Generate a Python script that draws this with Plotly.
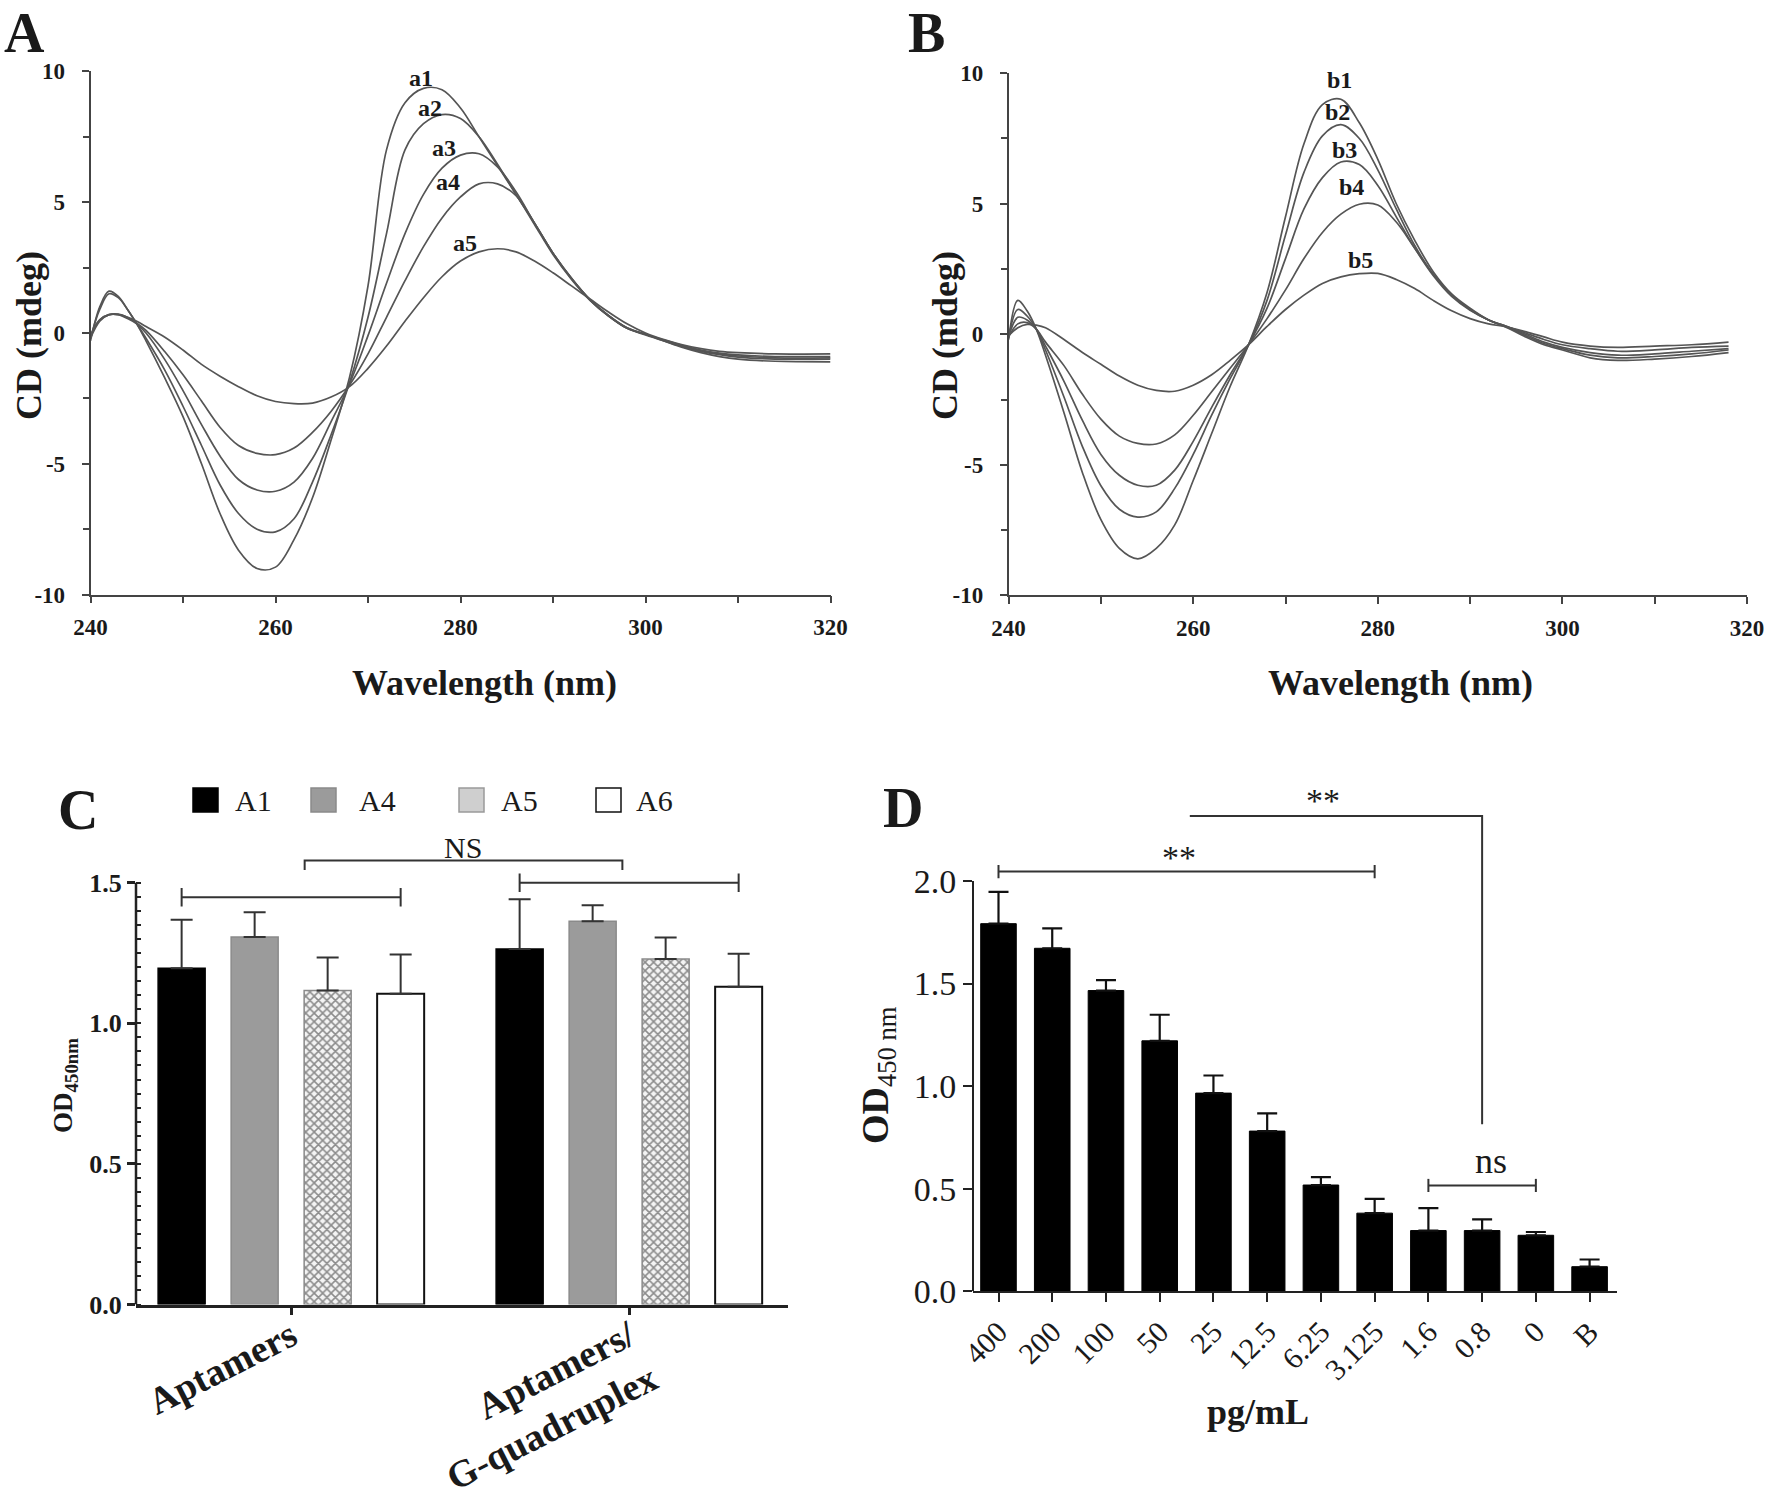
import plotly.graph_objects as go

W, H = 1770, 1504
SERIF = "Liberation Serif"
INK = "#1a1a1a"
CURVE = "#555555"

# ---------------- Panel A : CD spectra ----------------
WL_A = [240, 241, 242, 243, 244, 245, 246, 248, 250, 252, 254, 256, 258, 260, 262, 264, 266, 268,
        270, 272, 274, 276, 278, 280, 282, 284, 286, 288, 290, 292, 294, 296, 298, 300, 302, 304,
        306, 308, 310, 314, 320]
A1 = [-0.3, 1.0, 1.6, 1.4, 0.9, 0.35, -0.3, -1.7, -3.2, -5.0, -6.9, -8.3, -9.0, -8.95, -7.9, -6.3, -4.1, -1.7,
      1.8, 7.0, 8.8, 9.35, 9.3, 8.6, 7.5, 6.4, 5.3, 4.2, 3.05, 2.1, 1.27, 0.66, 0.18, -0.05, -0.3, -0.55,
      -0.75, -0.9, -1.0, -1.08, -1.1]
A2 = [-0.2, 0.9, 1.5, 1.35, 0.9, 0.35, -0.2, -1.4, -2.8, -4.3, -5.8, -6.9, -7.5, -7.6, -7.1, -5.7, -3.9, -1.9,
      0.6, 3.8, 7.0, 8.0, 8.35, 8.2, 7.5, 6.45, 5.3, 4.15, 3.0, 2.05, 1.25, 0.65, 0.18, -0.07, -0.3, -0.52,
      -0.7, -0.83, -0.92, -1.0, -1.0]
A3 = [-0.1, 0.5, 0.7, 0.7, 0.55, 0.35, 0.0, -1.0, -2.2, -3.5, -4.7, -5.6, -6.0, -6.05, -5.7, -4.8, -3.4, -1.95,
      -0.1, 1.9, 3.8, 5.3, 6.3, 6.8, 6.85, 6.35, 5.4, 4.2, 3.05, 2.08, 1.27, 0.66, 0.2, -0.05, -0.28, -0.5,
      -0.68, -0.8, -0.88, -0.95, -0.95]
A4 = [-0.2, 0.45, 0.7, 0.72, 0.6, 0.38, 0.1, -0.7, -1.6, -2.6, -3.6, -4.3, -4.6, -4.65, -4.4, -3.8, -3.0, -2.0,
      -0.8, 0.6, 2.0, 3.3, 4.4, 5.2, 5.7, 5.7, 5.25, 4.2, 3.05, 2.08, 1.28, 0.67, 0.2, -0.05, -0.27, -0.48,
      -0.65, -0.77, -0.84, -0.9, -0.9]
A5 = [-0.1, 0.5, 0.7, 0.7, 0.6, 0.45, 0.25, -0.15, -0.65, -1.2, -1.65, -2.05, -2.4, -2.62, -2.7, -2.68, -2.45, -2.05,
      -1.35, -0.5, 0.45, 1.35, 2.15, 2.75, 3.1, 3.22, 3.1, 2.75, 2.3, 1.8, 1.3, 0.8, 0.35, 0.0, -0.25, -0.45,
      -0.6, -0.7, -0.75, -0.8, -0.8]
A_SERIES = [A1, A2, A3, A4, A5]
A_LABELS = ["a1", "a2", "a3", "a4", "a5"]
A_LABEL_X = [275.7, 276.7, 278.2, 278.6, 280.5]
A_LABEL_Y = [9.76, 8.6, 7.06, 5.76, 3.43]

# ---------------- Panel B : CD spectra ----------------
WL_B = [240, 241, 242, 243, 244, 246, 248, 250, 252, 254, 256, 258, 260, 262, 264, 266, 268, 270, 272,
        274, 276, 278, 280, 282, 284, 286, 288, 290, 292, 294, 296, 298, 300, 303, 306, 310, 314, 318]
B1 = [-0.2, 1.3, 0.9, 0.2, -0.8, -3.0, -5.3, -7.1, -8.2, -8.6, -8.2, -7.3, -5.6, -3.8, -2.0, -0.4, 1.6, 4.5, 7.3,
      8.8, 9.0, 8.1, 6.7, 5.0, 3.6, 2.4, 1.55, 1.0, 0.55, 0.25, -0.1, -0.4, -0.6, -0.9, -1.0, -0.95, -0.85, -0.7]
B2 = [-0.15, 0.95, 0.7, 0.2, -0.6, -2.4, -4.3, -5.8, -6.7, -7.0, -6.8, -5.9, -4.6, -3.1, -1.7, -0.4, 1.3, 3.8, 6.2,
      7.6, 8.03, 7.5, 6.3, 4.8, 3.4, 2.3, 1.5, 0.95, 0.55, 0.28, -0.05, -0.35, -0.55, -0.8, -0.9, -0.85, -0.75, -0.6]
B3 = [-0.1, 0.65, 0.55, 0.2, -0.45, -1.8, -3.3, -4.6, -5.4, -5.78, -5.78, -5.2, -4.1, -2.8, -1.55, -0.4, 1.0, 2.9, 4.8,
      6.0, 6.6, 6.5, 5.7, 4.5, 3.3, 2.25, 1.45, 0.92, 0.55, 0.3, 0.0, -0.3, -0.5, -0.7, -0.8, -0.75, -0.65, -0.55]
B4 = [-0.1, 0.4, 0.45, 0.2, -0.3, -1.2, -2.3, -3.25, -3.9, -4.18, -4.2, -3.85, -3.1, -2.2, -1.3, -0.4, 0.6, 1.7, 2.9,
      3.9, 4.6, 4.98, 4.95, 4.3, 3.3, 2.3, 1.5, 0.95, 0.55, 0.3, 0.05, -0.2, -0.4, -0.55, -0.65, -0.6, -0.5, -0.45]
B5 = [-0.05, 0.25, 0.38, 0.35, 0.25, -0.2, -0.7, -1.15, -1.6, -1.95, -2.15, -2.18, -1.95, -1.55, -1.0, -0.4, 0.3, 0.95, 1.5,
      1.95, 2.2, 2.32, 2.33, 2.1, 1.75, 1.3, 0.9, 0.6, 0.4, 0.28, 0.1, -0.1, -0.3, -0.45, -0.5, -0.45, -0.4, -0.3]
B_SERIES = [B1, B2, B3, B4, B5]
B_LABELS = ["b1", "b2", "b3", "b4", "b5"]
B_LABEL_X = [275.8, 275.6, 276.4, 277.2, 278.1]
B_LABEL_Y = [9.74, 8.51, 7.07, 5.64, 2.83]
CD_TICKS = [-10, -5, 0, 5, 10]
WL_TICKS = [240, 260, 280, 300, 320]

# ---------------- Panel C : grouped bars ----------------
C_GROUPS = ["Aptamers", "Aptamers/<br>G-quadruplex"]
C_NAMES = ["A1", "A4", "A5", "A6"]
C_A1 = [1.196, 1.264]
C_A4 = [1.307, 1.363]
C_A5 = [1.117, 1.229]
C_A6 = [1.105, 1.130]
C_A1_ERR = [0.172, 0.177]
C_A4_ERR = [0.088, 0.057]
C_A5_ERR = [0.117, 0.076]
C_A6_ERR = [0.140, 0.117]
C_TICKS = [0.0, 0.5, 1.0, 1.5]

# ---------------- Panel D : bars ----------------
D_LABELS = ["400", "200", "100", "50", "25", "12.5", "6.25", "3.125", "1.6", "0.8", "0", "B"]
D_MEAN = [1.792, 1.672, 1.466, 1.221, 0.966, 0.781, 0.518, 0.381, 0.296, 0.296, 0.273, 0.120]
D_ERR = [0.155, 0.097, 0.051, 0.127, 0.086, 0.086, 0.039, 0.070, 0.109, 0.055, 0.016, 0.035]
D_TICKS = [0.0, 0.5, 1.0, 1.5, 2.0]


def px_x(p):
    return p / W


def px_y(p):
    return 1 - p / H


fig = go.Figure()

# --- CD curves
for ser, name in zip(A_SERIES, A_LABELS):
    fig.add_trace(go.Scatter(x=WL_A, y=ser, mode="lines", name=name, showlegend=False,
                             line=dict(color=CURVE, width=1.7, shape="spline", smoothing=1.0),
                             xaxis="x", yaxis="y"))
for ser, name in zip(B_SERIES, B_LABELS):
    fig.add_trace(go.Scatter(x=WL_B, y=ser, mode="lines", name=name, showlegend=False,
                             line=dict(color=CURVE, width=1.7, shape="spline", smoothing=1.0),
                             xaxis="x2", yaxis="y2"))

# --- Panel C bars
C_VALUES = [C_A1, C_A4, C_A5, C_A6]
C_ERRS = [C_A1_ERR, C_A4_ERR, C_A5_ERR, C_A6_ERR]
C_GAP = 0.136
SLOT = (1 - C_GAP) / len(C_NAMES)
BAR_W = SLOT * 0.644
C_STYLE = [
    dict(color="#000000", line=dict(color="#000000", width=1.5)),
    dict(color="#9b9b9b", line=dict(color="#8a8a8a", width=1.5)),
    dict(color="#f4f4f4", line=dict(color="#8a8a8a", width=1.5),
         pattern=dict(shape="x", size=6, solidity=0.45, fgcolor="#8c8c8c", bgcolor="#f4f4f4")),
    dict(color="#ffffff", line=dict(color="#111111", width=2)),
]
group_idx = list(range(len(C_GROUPS)))
c_pos = []
for i, (name, vals, errs, sty) in enumerate(zip(C_NAMES, C_VALUES, C_ERRS, C_STYLE)):
    xs = [g + (i - (len(C_NAMES) - 1) / 2) * SLOT for g in group_idx]
    c_pos.append(xs)
    fig.add_trace(go.Bar(x=xs, y=vals, width=BAR_W, name=name, showlegend=False, marker=sty,
                         error_y=dict(type="data", array=errs, arrayminus=[0] * len(errs), symmetric=False,
                                      color="#333333", thickness=2, width=11),
                         xaxis="x3", yaxis="y3"))


def bracket(xa, xb, y, cap, axx, axy, down_only=False):
    if down_only:
        xs = [xa, xa, xb, xb]
        ys = [y - cap, y, y, y - cap]
    else:
        xs = [xa, xa, None, xa, xb, None, xb, xb]
        ys = [y - cap, y + cap, None, y, y, None, y - cap, y + cap]
    fig.add_trace(go.Scatter(x=xs, y=ys, mode="lines", showlegend=False, hoverinfo="skip",
                             line=dict(color="#333333", width=2), xaxis=axx, yaxis=axy))


bracket(c_pos[0][0], c_pos[3][0], 1.448, 0.033, "x3", "y3")
bracket(c_pos[0][1], c_pos[3][1], 1.500, 0.033, "x3", "y3")
bracket(0.04, 0.98, 1.579, 0.034, "x3", "y3", down_only=True)

# --- Panel D bars
D_X = list(range(len(D_LABELS)))
fig.add_trace(go.Bar(x=D_X, y=D_MEAN, width=0.662, showlegend=False, name="OD450",
                     marker=dict(color="#000000", line=dict(color="#000000", width=1)),
                     error_y=dict(type="data", array=D_ERR, arrayminus=[0] * len(D_ERR), symmetric=False,
                                  color="#111111", thickness=2.2, width=10),
                     xaxis="x4", yaxis="y4"))
bracket(0, 7, 2.046, 0.032, "x4", "y4")
bracket(8, 10, 0.516, 0.032, "x4", "y4")
fig.add_trace(go.Scatter(x=[3.56, 9, 9], y=[2.317, 2.317, 0.814], mode="lines", showlegend=False,
                         hoverinfo="skip", line=dict(color="#333333", width=2), xaxis="x4", yaxis="y4"))

# ---------------- axes ----------------
cd_x = dict(range=[240, 320], tickvals=WL_TICKS, ticktext=[str(t) for t in WL_TICKS],
            showline=True, linecolor="#444", linewidth=1.6, automargin=False, ticklabelstandoff=4,
            ticks="outside", ticklen=7, tickwidth=1.6, tickcolor="#444", showgrid=False, zeroline=False,
            minor=dict(dtick=10, tick0=240, ticks="outside", ticklen=7, tickwidth=1.6, tickcolor="#444"),
            tickfont=dict(family=SERIF, size=23, color=INK, weight="bold"))
cd_y = dict(range=[-10, 10], tickvals=CD_TICKS, ticktext=[str(t) for t in CD_TICKS],
            showline=True, linecolor="#444", linewidth=1.6, automargin=False, ticklabelstandoff=12,
            ticks="outside", ticklen=7, tickwidth=1.6, tickcolor="#444", showgrid=False, zeroline=False,
            minor=dict(dtick=2.5, tick0=-10, ticks="outside", ticklen=6, tickwidth=1.6, tickcolor="#444"),
            tickfont=dict(family=SERIF, size=23, color=INK, weight="bold"))

C_BOTTOM, C_SCALE = 1304.5, 281.2
C_TOP_VAL = 1.70
D_BOTTOM, D_SCALE = 1291.3, 205.15
D_TOP_VAL = 2.46

fig.update_layout(
    template="none",
    width=W, height=H, autosize=False, margin=dict(l=0, r=0, t=0, b=0, pad=0),
    paper_bgcolor="white", plot_bgcolor="white", barmode="overlay", showlegend=False,
    font=dict(family=SERIF, color=INK),
    xaxis=dict(domain=[px_x(90.5), px_x(830.5)], anchor="y", **cd_x),
    yaxis=dict(domain=[px_y(594.6), px_y(71.4)], anchor="x", **cd_y),
    xaxis2=dict(domain=[px_x(1008.6), px_x(1747)], anchor="y2", **cd_x),
    yaxis2=dict(domain=[px_y(595.4), px_y(73.2)], anchor="x2", **cd_y),
    xaxis3=dict(domain=[px_x(136), px_x(788)], anchor="y3", range=[-0.459, 1.47],
                tickvals=group_idx, ticktext=C_GROUPS, tickangle=-27, automargin=False,
                ticklabelstandoff=-16,
                showline=True, linecolor="#222", linewidth=2.5, ticks="outside", ticklen=8, tickwidth=2.5,
                tickcolor="#222", showgrid=False, zeroline=False,
                tickfont=dict(family=SERIF, size=38, color=INK, weight="bold")),
    yaxis3=dict(domain=[px_y(C_BOTTOM), px_y(C_BOTTOM - C_TOP_VAL * C_SCALE)], anchor="x3",
                range=[0, C_TOP_VAL], tickvals=C_TICKS, ticktext=["%.1f" % t for t in C_TICKS],
                showline=False, ticks="outside", ticklen=8, tickwidth=2.5, tickcolor="#222",
                showgrid=False, zeroline=False, automargin=False,
                minor=dict(tickvals=[round(k * 0.05, 2) for k in range(31)], ticks="inside",
                           ticklen=5, tickwidth=2, tickcolor="#222"),
                tickfont=dict(family=SERIF, size=26, color=INK, weight="bold")),
    xaxis4=dict(domain=[px_x(973), px_x(1617)], anchor="y4", range=[-0.4745, 11.51],
                tickvals=D_X, ticktext=D_LABELS, tickangle=-45, automargin=False,
                showline=True, linecolor="#222", linewidth=2.2, ticks="outside", ticklen=9, tickwidth=2.2,
                tickcolor="#222", showgrid=False, zeroline=False,
                tickfont=dict(family=SERIF, size=30, color=INK)),
    yaxis4=dict(domain=[px_y(D_BOTTOM), px_y(D_BOTTOM - D_TOP_VAL * D_SCALE)], anchor="x4",
                range=[0, D_TOP_VAL], tickvals=D_TICKS, ticktext=["%.1f" % t for t in D_TICKS],
                showline=False, ticks="outside", ticklen=9, tickwidth=2, tickcolor="#222",
                showgrid=False, zeroline=False, automargin=False,
                tickfont=dict(family=SERIF, size=34, color=INK)),
)

shapes = [
    dict(type="line", xref="x3 domain", yref="y3", x0=0, x1=0, y0=0, y1=1.5,
         line=dict(color="#222", width=2.5)),
    dict(type="line", xref="x4 domain", yref="y4", x0=0, x1=0, y0=0, y1=2.0,
         line=dict(color="#222", width=2)),
]

# legend of panel C (swatches + labels)
LEG_SW_X = [193, 311, 459, 596]
LEG_TX_X = [233, 357, 499, 634]
LEG_FILL = ["#000000", "#9b9b9b", "#cfcfcf", "#ffffff"]
LEG_LINE = ["#000000", "#8a8a8a", "#9a9a9a", "#111111"]
for sx, fc, lc in zip(LEG_SW_X, LEG_FILL, LEG_LINE):
    shapes.append(dict(type="rect", xref="paper", yref="paper", x0=px_x(sx), x1=px_x(sx + 25),
                       y0=px_y(812), y1=px_y(788), fillcolor=fc, line=dict(color=lc, width=1.5)))

annotations = []


def note(text, x, y, size, xref="paper", yref="paper", xanchor="center", yanchor="middle",
         angle=0, bold=False):
    annotations.append(dict(text=("<b>%s</b>" % text) if bold else text, x=x, y=y, xref=xref, yref=yref,
                            xanchor=xanchor, yanchor=yanchor, showarrow=False, textangle=angle,
                            font=dict(family=SERIF, size=size, color=INK)))


for name, tx in zip(C_NAMES, LEG_TX_X):
    note(name, px_x(tx), px_y(800), 30, xanchor="left")

# panel letters
note("A", px_x(24), 1.0, 56, yanchor="top", bold=True)
note("B", px_x(926), 1.0, 56, yanchor="top", bold=True)
note("C", px_x(78), px_y(810), 56, bold=True)
note("D", px_x(903), px_y(808), 56, bold=True)

# axis titles
note("Wavelength (nm)", px_x(485), px_y(683), 36, bold=True)
note("Wavelength (nm)", px_x(1400), px_y(683), 36, bold=True)
note("CD (mdeg)", px_x(29), px_y(336), 36, angle=-90, bold=True)
note("CD (mdeg)", px_x(945), px_y(336), 36, angle=-90, bold=True)
note("<b>OD</b><sub><b>450nm</b></sub>", px_x(65), px_y(1086), 27, angle=-90)
note("<b>OD</b><sub>450 nm</sub>", px_x(878), px_y(1075), 38, angle=-90)
note("pg/mL", px_x(1258), px_y(1412), 36, bold=True)

# curve labels
for t, x, y in zip(A_LABELS, A_LABEL_X, A_LABEL_Y):
    note(t, x, y, 24, xref="x", yref="y", bold=True)
for t, x, y in zip(B_LABELS, B_LABEL_X, B_LABEL_Y):
    note(t, x, y, 24, xref="x2", yref="y2", bold=True)

# significance marks
note("NS", 0.509, 1.624, 30, xref="x3", yref="y3")
note("**", 3.35, 2.116, 34, xref="x4", yref="y4")
note("**", 6.03, 2.393, 34, xref="x4", yref="y4")
note("ns", 9.16, 0.636, 36, xref="x4", yref="y4")

fig.update_layout(shapes=shapes, annotations=annotations)
fig.write_html("out.html", config={"displayModeBar": False},
               post_script="document.body.style.margin='0px';document.body.style.overflow='hidden';")
